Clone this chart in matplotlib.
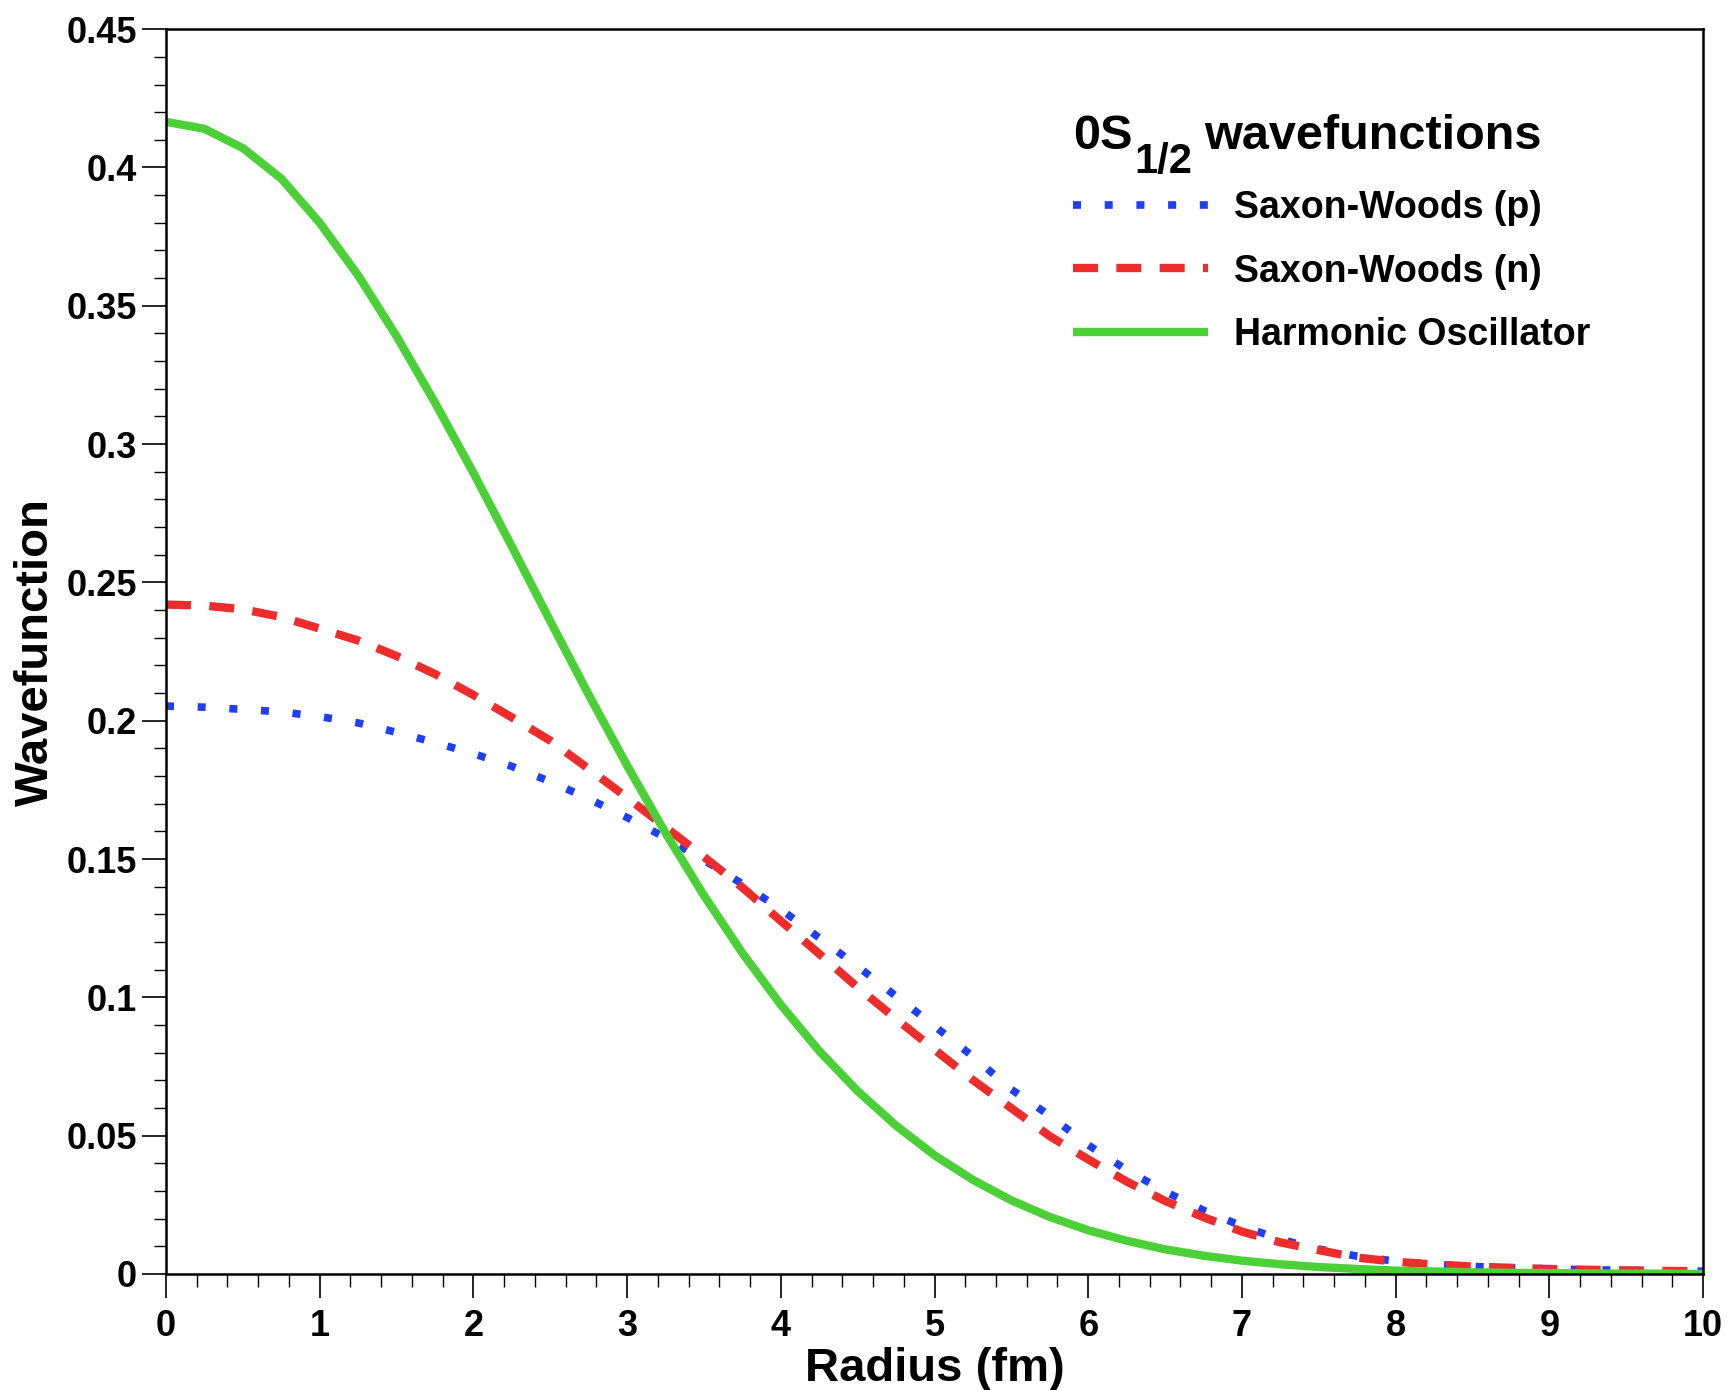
import numpy as np
import matplotlib
matplotlib.use("Agg")
import matplotlib.pyplot as plt
from matplotlib.ticker import MultipleLocator, FuncFormatter
from matplotlib.transforms import offset_copy

plt.rcParams['font.family'] = ['Liberation Sans', 'DejaVu Sans']
plt.rcParams['font.weight'] = 'bold'

# radius grid (fm)
radius = [0.0, 0.25, 0.5, 0.75, 1.0, 1.25, 1.5, 1.75, 2.0, 2.25,
          2.5, 2.75, 3.0, 3.25, 3.5, 3.75, 4.0, 4.25, 4.5, 4.75,
          5.0, 5.25, 5.5, 5.75, 6.0, 6.25, 6.5, 6.75, 7.0, 7.25,
          7.5, 7.75, 8.0, 8.25, 8.5, 8.75, 9.0, 9.25, 9.5, 9.75, 10.0]

sw_p = [0.2053, 0.2049, 0.2041, 0.2032, 0.2015, 0.1992, 0.1958, 0.1921, 0.1881, 0.1835,
        0.1780, 0.1718, 0.1650, 0.1577, 0.1496, 0.1410, 0.1318, 0.1215, 0.1112, 0.1004,
        0.0896, 0.0786, 0.0667, 0.0572, 0.0466, 0.0376, 0.0298, 0.0230, 0.0173, 0.0125,
        0.0090, 0.0064, 0.0046, 0.0035, 0.0027, 0.0022, 0.0018, 0.0015, 0.0013, 0.0011, 0.0010]

sw_n = [0.2420, 0.2416, 0.2403, 0.2375, 0.2333, 0.2290, 0.2234, 0.2169, 0.2093, 0.2012,
        0.1928, 0.1826, 0.1722, 0.1615, 0.1508, 0.1397, 0.1276, 0.1157, 0.1036, 0.0922,
        0.0811, 0.0701, 0.0599, 0.0498, 0.0414, 0.0334, 0.0264, 0.0205, 0.0153, 0.0114,
        0.0086, 0.0059, 0.0044, 0.0034, 0.0027, 0.0022, 0.0018, 0.0015, 0.0013, 0.0011, 0.0010]

harm = [0.4165, 0.4140, 0.4070, 0.3960, 0.3800, 0.3610, 0.3390, 0.3150, 0.2896, 0.2630,
        0.2360, 0.2094, 0.1838, 0.1594, 0.1368, 0.1160, 0.0973, 0.0806, 0.0661, 0.0536,
        0.0429, 0.0340, 0.0266, 0.0206, 0.0158, 0.0120, 0.0089, 0.0066, 0.0048, 0.0035,
        0.0025, 0.0018, 0.0012, 0.0009, 0.0006, 0.0004, 0.0003, 0.0002, 0.0001, 0.0001, 0.0]

labels = ['Saxon-Woods (p)', 'Saxon-Woods (n)', 'Harmonic Oscillator']

fig = plt.figure(figsize=(17.29, 13.90), dpi=100)
ax = fig.add_axes([0.096, 0.0835, 0.889, 0.8955])

l1, = ax.plot(radius, sw_p, color='#1e3ff5', lw=5.5, dash_capstyle='butt')
l1.set_dashes([1.05, 3.1])
l2, = ax.plot(radius, sw_n, color='#ee2c2c', lw=6, dash_capstyle='butt')
l2.set_dashes([3.0, 2.2])
l3, = ax.plot(radius, harm, color='#4cd038', lw=6, solid_capstyle='butt')

ax.set_xlim(0, 10)
ax.set_ylim(0, 0.45)
ax.xaxis.set_major_locator(MultipleLocator(1))
ax.xaxis.set_minor_locator(MultipleLocator(0.2))
ax.yaxis.set_major_locator(MultipleLocator(0.05))
ax.yaxis.set_minor_locator(MultipleLocator(0.01))
ax.yaxis.set_major_formatter(FuncFormatter(lambda v, p: '%g' % round(v, 3)))
ax.xaxis.set_major_formatter(FuncFormatter(lambda v, p: '%g' % v))

ax.tick_params(which='major', direction='out', length=17, width=1.2,
               labelsize=26, pad=8, top=False, right=False)
ax.tick_params(which='minor', direction='out', length=9, width=1.0,
               top=False, right=False)
ax.tick_params(axis='y', which='major', pad=4)
for lab in ax.get_xticklabels() + ax.get_yticklabels():
    lab.set_fontweight('bold')
for sp in ax.spines.values():
    sp.set_linewidth(1.8)

ax.set_xlabel('Radius (fm)', fontsize=34, fontweight='bold')
ax.set_ylabel('Wavefunction', fontsize=34, fontweight='bold')
ax.xaxis.set_label_coords(0.5, -0.059)
ax.yaxis.set_label_coords(-0.070, 0.5)

leg = ax.legend([l1, l2, l3], labels,
                loc='upper left', bbox_to_anchor=(0.59, 0.871),
                frameon=False, fontsize=27, handlelength=3.6,
                handletextpad=0.7, labelspacing=0.74, borderpad=0,
                borderaxespad=0)
for t in leg.get_texts():
    t.set_fontweight('bold')

# legend title with a ROOT-like large subscript
tx, ty = 0.5900, 0.904
t0 = ax.text(tx, ty, '0S', transform=ax.transAxes,
             fontsize=35, fontweight='bold', va='baseline')
fig.canvas.draw()
w0 = t0.get_window_extent().width
t1 = ax.text(tx, ty, '1/2', fontsize=30, fontweight='bold', va='baseline',
             transform=offset_copy(ax.transAxes, fig=fig, x=w0 + 2, y=-24, units='dots'))
fig.canvas.draw()
w1 = t1.get_window_extent().width
ax.text(tx, ty, 'wavefunctions', fontsize=35, fontweight='bold', va='baseline',
        transform=offset_copy(ax.transAxes, fig=fig, x=w0 + w1 + 14, y=0, units='dots'))

fig.savefig('out.png', dpi=100)
